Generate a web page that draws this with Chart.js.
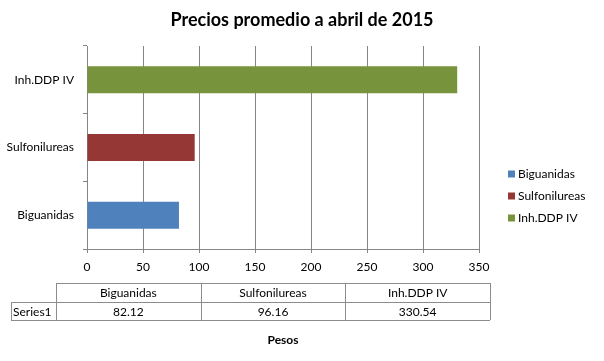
<!DOCTYPE html>
<html>
<head>
<meta charset="utf-8">
<script src="https://cdn.jsdelivr.net/npm/chart.js@4/dist/chart.umd.min.js"></script>
<style>
  html, body { margin: 0; padding: 0; background: #fff; }
  #wrap { width: 604px; height: 361px; position: relative; }
</style>
</head>
<body>
<div id="wrap"><canvas id="c" width="604" height="361"></canvas></div>
<script>
const categories = ['Biguanidas', 'Sulfonilureas', 'Inh.DDP IV'];
const values = [82.12, 96.16, 330.54];
const seriesName = 'Series1';
const xTicks = [0, 50, 100, 150, 200, 250, 300, 350];
const colors = ['#4f81bd', '#953735', '#77933c'];
const chartTitle = 'Precios promedio a abril de 2015';
const axisTitle = 'Pesos';

const FONT = 'Lato, "Open Sans", sans-serif';
const GRID = '#868686';

const extras = {
  id: 'extras',
  afterDraw(chart) {
    const ctx = chart.ctx;
    ctx.save();
    // legend
    ctx.font = '12px ' + FONT;
    ctx.textBaseline = 'middle';
    ctx.textAlign = 'left';
    categories.forEach((c, i) => {
      const y = 174 + i * 22;
      ctx.fillStyle = colors[i];
      ctx.fillRect(508, y - 3.5, 7, 7);
      ctx.fillStyle = '#000';
      ctx.fillText(c, 518, y);
    });
    // data table
    const x0 = 11, x1 = 56, x2 = 490;
    const y0 = 283, y1 = 302, y2 = 320;
    const cw = (x2 - x1) / categories.length;
    ctx.strokeStyle = '#8c8c8c';
    ctx.lineWidth = 1;
    ctx.beginPath();
    ctx.moveTo(x1, y0 + 0.5); ctx.lineTo(x2, y0 + 0.5);
    ctx.moveTo(x0, y1 + 0.5); ctx.lineTo(x2, y1 + 0.5);
    ctx.moveTo(x0, y2 + 0.5); ctx.lineTo(x2, y2 + 0.5);
    ctx.moveTo(x0 + 0.5, y1); ctx.lineTo(x0 + 0.5, y2);
    for (let i = 0; i <= categories.length; i++) {
      const x = Math.round(x1 + i * cw) + 0.5;
      ctx.moveTo(x, y0); ctx.lineTo(x, y2);
    }
    ctx.stroke();
    ctx.fillStyle = '#000';
    ctx.textAlign = 'center';
    categories.forEach((c, i) => {
      const cx = x1 + (i + 0.5) * cw;
      ctx.fillText(c, cx, (y0 + y1) / 2 + 1);
      ctx.fillText(values[i].toFixed(2), cx, (y1 + y2) / 2 + 1);
    });
    ctx.textAlign = 'left';
    ctx.fillText(seriesName, x0 + 2, (y1 + y2) / 2 + 1);
    ctx.restore();
  }
};

new Chart(document.getElementById('c'), {
  type: 'bar',
  data: {
    labels: categories,
    datasets: [{
      label: seriesName,
      data: values,
      backgroundColor: colors,
      borderWidth: 0,
      categoryPercentage: 1,
      barPercentage: 0.4
    }]
  },
  options: {
    indexAxis: 'y',
    responsive: false,
    animation: false,
    layout: { padding: { left: 0, right: 0, top: 0, bottom: 0 } },
    plugins: {
      legend: { display: false },
      tooltip: { enabled: false },
      title: {
        display: true,
        text: chartTitle,
        color: '#000',
        font: { family: FONT, size: 18, weight: 'bold' },
        padding: { top: 9, bottom: 15.4 }
      }
    },
    scales: {
      x: {
        type: 'linear',
        min: xTicks[0],
        max: xTicks[xTicks.length - 1],
        afterBuildTicks(s) { s.ticks = xTicks.map(v => ({ value: v })); },
        afterFit(s) { s.height = 112; },
        grid: { color: GRID, tickLength: 4, drawOnChartArea: true },
        border: { color: GRID },
        ticks: { color: '#000', font: { family: FONT, size: 12 }, padding: 7 },
        title: {
          display: true,
          text: axisTitle,
          color: '#000',
          font: { family: FONT, size: 12, weight: 'bold' },
          padding: { top: 0, bottom: 14 }
        }
      },
      y: {
        type: 'category',
        reverse: true,
        afterFit(s) { s.width = 87; },
        grid: { display: true, drawOnChartArea: false, tickLength: 4, color: GRID, offset: true },
        border: { color: GRID },
        ticks: { color: '#000', font: { family: FONT, size: 12 }, padding: 9 }
      },
      yRight: {
        type: 'linear',
        position: 'right',
        display: true,
        afterFit(s) { s.width = 125; },
        grid: { display: false },
        border: { display: false },
        ticks: { display: false }
      }
    }
  },
  plugins: [extras]
});
</script>
</body>
</html>
